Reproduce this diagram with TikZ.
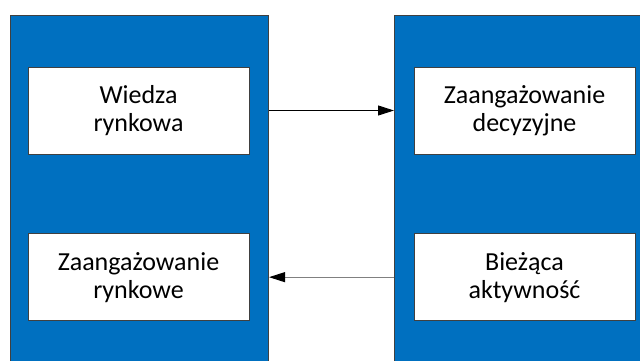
\documentclass[tikz,border=0pt]{standalone}
\usepackage{fontspec}
\setmainfont{Carlito}
\usetikzlibrary{arrows.meta, positioning}
\definecolor{cColumn}{RGB}{0,112,192}
\definecolor{cEdge}{RGB}{64,64,64}
\definecolor{cGrey}{RGB}{128,128,128}
\tikzset{
    column/.style={rectangle, anchor=north west, minimum height=270pt, draw=cEdge, fill=cColumn, line width=0.75pt},
    factor/.style={rectangle, minimum width=165.75pt, minimum height=65.25pt, text centered, align=center, draw=cEdge, fill=white, line width=0.75pt, font=\fontsize{19.5}{21}\selectfont},
    flowarrow/.style={-{Triangle[length=12pt,width=7.5pt,color=black]}, line width=0.75pt},
}
\begin{document}
\begin{tikzpicture}[x=0.75pt, y=-0.75pt]
                \useasboundingbox (0,0) rectangle (640,361);
                \clip (0,0) rectangle (640,361);
                % two columns, running off the bottom edge
                \node[column, minimum width=193.9pt] (lcol) at (9.5,14.5) {};
                \node[column, minimum width=200pt] (rcol) at (394,14.5) {};
                \node[factor] (wiedza) at (138.5,110.5) {Wiedza\\rynkowa};
                \node[factor, below=59pt of wiedza] (rynk) {Zaangażowanie\\rynkowe};
                \node[factor, right=123pt of wiedza] (decyz) {Zaangażowanie\\decyzyjne};
                \node[factor, below=59pt of decyz] (biez) {Bieżąca\\aktywność};
                \draw[flowarrow](wiedza.east -| lcol.east)--(decyz.west -| rcol.west);
                \draw[flowarrow, cGrey](biez.west -| rcol.west)--(rynk.east -| lcol.east);
            \end{tikzpicture}
\end{document}
